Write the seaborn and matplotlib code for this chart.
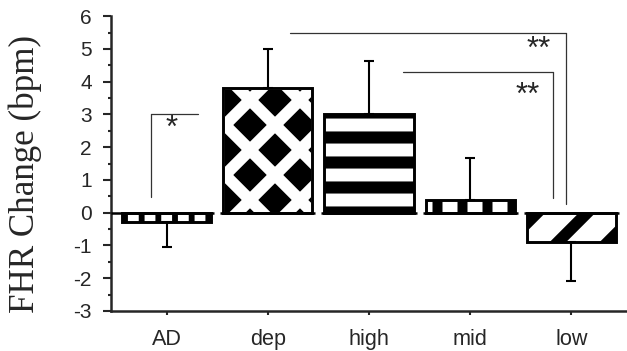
import matplotlib
matplotlib.use('Agg')
import matplotlib.pyplot as plt
from matplotlib.patches import Rectangle
from matplotlib.ticker import MultipleLocator
import seaborn as sns
import numpy as np

# data
groups = ['AD', 'dep', 'high', 'mid', 'low']
means = [-0.27, 3.80, 3.00, 0.40, -0.88]
errs = [0.78, 1.20, 1.62, 1.28, 1.20]

# significance brackets
sig_x0 = [-0.15, 1.22, 2.34]
sig_x1 = [0.31, 3.95, 3.82]
sig_y = [3.0, 5.5, 4.28]
sig_drop = [0.47, 0.27, 0.45]
sig_side = ['left', 'right', 'right']
sig_text = ['*', '**', '**']
sig_tx = [0.05, 3.68, 3.57]
sig_ty = [2.55, 4.98, 3.57]

# bar fill patterns (hatch, hatch linewidth)
hatches = ['|||', 'xx', '--', '||', '//']
hatch_lw = [1.4, 2.8, 2.9, 2.4, 2.8]

sns.set_style('ticks')
plt.rcParams['font.family'] = ['Liberation Sans', 'DejaVu Sans']
plt.rcParams['axes.unicode_minus'] = False

fig = plt.figure(figsize=(2.09, 1.17), dpi=300)
ax = fig.add_axes([0.177, 0.114, 0.823, 0.840])

sns.barplot(x=groups, y=means, width=0.88, color='white', saturation=1,
            edgecolor='black', linewidth=0.7, errorbar=None, ax=ax, zorder=2)

for i, p in enumerate(ax.patches[:len(groups)]):
    p.set_hatch(hatches[i])
    if hasattr(p, 'set_hatch_linewidth'):
        p.set_hatch_linewidth(hatch_lw[i])
    if groups[i] == 'dep':
        # black diamonds: black face with white cross hatch, black outline on top
        p.set_facecolor('black')
        p.set_edgecolor('white')
        ax.add_patch(Rectangle(p.get_xy(), p.get_width(), p.get_height(),
                               fill=False, edgecolor='black', linewidth=0.7, zorder=3))

# one-sided error bars
means_a = np.array(means)
errs_a = np.array(errs)
lower = np.where(means_a < 0, errs_a, 0)
upper = np.where(means_a >= 0, errs_a, 0)
ax.errorbar(np.arange(len(groups)), means, yerr=[lower, upper], fmt='none',
            ecolor='black', elinewidth=0.5, capsize=1.2, capthick=0.5, zorder=4)

# broken zero line
idx = np.arange(len(groups))
starts = idx - 0.47
starts[0] = -0.55
ax.hlines(np.zeros(len(groups)), starts, idx + 0.47, color='black', linewidth=0.6, zorder=3)

# significance brackets
for x0, x1, y, d, side, t, tx, ty in zip(sig_x0, sig_x1, sig_y, sig_drop,
                                          sig_side, sig_text, sig_tx, sig_ty):
    xv = x0 if side == 'left' else x1
    ax.plot([x0, x1], [y, y], color='#333333', linewidth=0.3)
    ax.plot([xv, xv], [y, d], color='#333333', linewidth=0.3)
    ax.text(tx, ty, t, ha='center', va='center', fontsize=7.5)

ax.set_xlim(-0.55, 4.55)
ax.set_ylim(-3, 6)
ax.yaxis.set_major_locator(MultipleLocator(1))
ax.yaxis.set_minor_locator(MultipleLocator(0.5))
ax.tick_params(axis='y', which='major', length=2.0, width=0.5, pad=2.6, labelsize=5.0)
ax.tick_params(axis='y', which='minor', length=0.8, width=0.5)
ax.tick_params(axis='x', length=1.0, width=0.5, pad=3.4, labelsize=5.2)
ax.set_xlabel('')
ax.set_ylabel('FHR Change (bpm)', family=['Liberation Serif'], fontsize=8.4)
ax.yaxis.set_label_coords(-0.134, 0.464)
for s in ['left', 'bottom']:
    ax.spines[s].set_linewidth(0.6)
sns.despine(ax=ax)

fig.savefig('out.png', dpi=300)
